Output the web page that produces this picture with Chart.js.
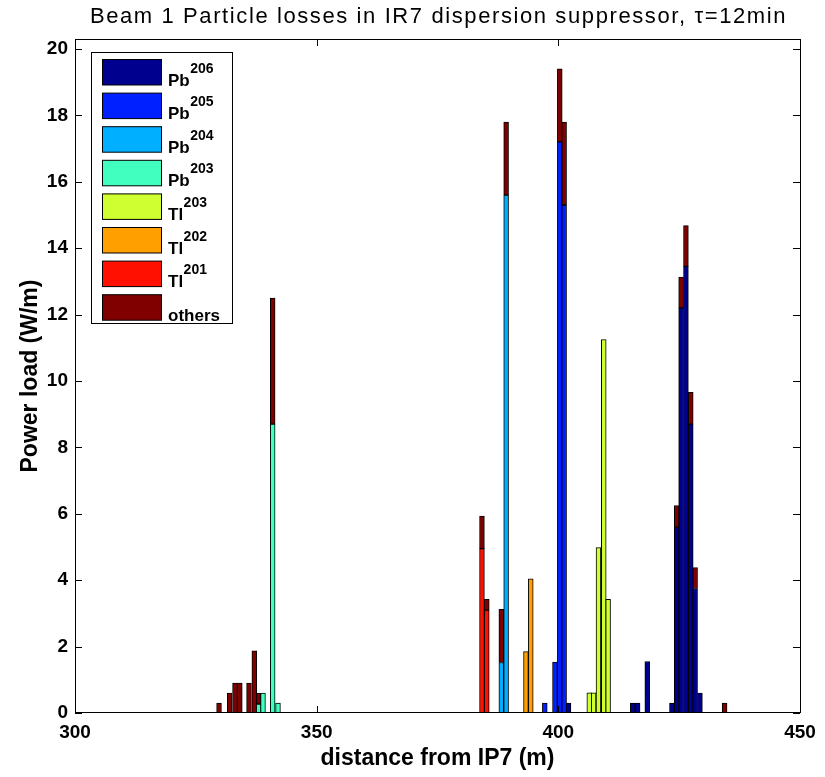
<!DOCTYPE html>
<html>
<head>
<meta charset="utf-8">
<script src="https://cdn.jsdelivr.net/npm/chart.js@4.4.3/dist/chart.umd.min.js"></script>
<style>
  html, body { margin: 0; padding: 0; background: #fff; }
  #wrap { width: 825px; height: 777px; }
</style>
</head>
<body>
<div id="wrap"><canvas id="lossChart" width="825" height="777"></canvas></div>
<script>
// Distancias desde IP7 (m) y carga (W/m) por especie
const pb206Dist = [402.1, 415.4, 416.4, 418.4, 423.5, 424.5, 425.4, 426.4, 427.4, 428.3, 429.3];
const pb206Load = [0.3, 0.3, 0.3, 1.55, 0.3, 5.6, 12.2, 13.45, 8.7, 3.75, 0.6];

const pb205Dist = [397.2, 399.3, 400.3, 401.2];
const pb205Load = [0.3, 1.53, 17.2, 15.3];

const pb204Dist = [388.2, 389.2];
const pb204Load = [1.52, 15.6];

const pb203Dist = [338.0, 338.9, 340.9, 342.0];
const pb203Load = [0.27, 0.6, 8.7, 0.3];

const tl203Dist = [406.4, 407.3, 408.3, 409.4, 410.3];
const tl203Load = [0.61, 0.61, 4.98, 11.25, 3.42];

const tl202Dist = [393.3, 394.3];
const tl202Load = [1.85, 4.04];

const tl201Dist = [384.2, 385.2];
const tl201Load = [4.95, 3.1];

const othersDist = [329.8, 332.0, 333.1, 334.1, 336.0, 337.1, 338.0, 340.9, 384.2, 385.2, 388.2, 389.2, 400.3, 401.2, 424.5, 425.4, 426.4, 427.4, 428.3, 434.4];
const othersLoad = [0.3, 0.6, 0.9, 0.9, 0.9, 1.87, 0.32, 3.8, 0.98, 0.32, 1.6, 2.2, 2.2, 2.5, 0.65, 0.93, 1.23, 0.96, 0.63, 0.3];

// Leyenda: nombre base + superindice
const labelBase = ['Pb', 'Pb', 'Pb', 'Pb', 'Tl', 'Tl', 'Tl', 'others'];
const labelSup = ['206', '205', '204', '203', '203', '202', '201', ''];
const colores = ['#00008F', '#0020FF', '#00AFFF', '#40FFBF', '#CFFF30', '#FF9F00', '#FF1000', '#800000'];

const xTicks = [300, 350, 400, 450];
const titulo = 'Beam 1 Particle losses in IR7 dispersion suppressor, τ=12min';

const series = [
    [pb206Dist, pb206Load], [pb205Dist, pb205Load], [pb204Dist, pb204Load], [pb203Dist, pb203Load],
    [tl203Dist, tl203Load], [tl202Dist, tl202Load], [tl201Dist, tl201Load], [othersDist, othersLoad]
];

const datasets = series.map(([dist, load], i) => ({
    label: labelBase[i] + labelSup[i],
    data: dist.map((d, j) => ({ x: d, y: load[j] })),
    backgroundColor: colores[i],
    borderColor: '#000',
    borderWidth: 1,
    borderSkipped: false,
    barThickness: 4.83
}));

const fuente = 'Arial, "Liberation Sans", sans-serif';

// Titulo con espaciado de letras parecido al de MATLAB
const tituloPlugin = {
    id: 'titulo',
    afterDraw(chart) {
        const { ctx, chartArea: a } = chart;
        ctx.save();
        ctx.font = '22px ' + fuente;
        ctx.letterSpacing = '1.6px';
        ctx.fillStyle = '#000';
        ctx.textAlign = 'center';
        ctx.textBaseline = 'middle';
        ctx.fillText(titulo, (a.left + a.right) / 2 + 1, 17);
        ctx.restore();
    }
};

// Marco de los ejes con marcas hacia dentro (estilo MATLAB)
const marcoPlugin = {
    id: 'marco',
    afterDatasetsDraw(chart) {
        const { ctx, chartArea: a, scales: { x, y } } = chart;
        ctx.save();
        ctx.strokeStyle = '#000';
        ctx.lineWidth = 1;
        ctx.strokeRect(Math.round(a.left) + 0.5, Math.round(a.top) + 0.5,
            Math.round(a.right - a.left), Math.round(a.bottom - a.top) - 1);
        ctx.beginPath();
        x.ticks.forEach(t => {
            const px = Math.round(x.getPixelForValue(t.value)) + 0.5;
            ctx.moveTo(px, a.bottom); ctx.lineTo(px, a.bottom - 7);
            ctx.moveTo(px, a.top); ctx.lineTo(px, a.top + 7);
        });
        y.ticks.forEach(t => {
            const py = Math.round(y.getPixelForValue(t.value)) + 0.5;
            ctx.moveTo(a.left, py); ctx.lineTo(a.left + 7, py);
            ctx.moveTo(a.right, py); ctx.lineTo(a.right - 7, py);
        });
        ctx.stroke();
        ctx.restore();
    }
};

// Leyenda dibujada a mano para poder poner superindices
const leyendaPlugin = {
    id: 'leyenda',
    afterDraw(chart) {
        const ctx = chart.ctx;
        const bx = 91.5, by = 52.5, bw = 141, bh = 271;
        ctx.save();
        ctx.fillStyle = '#fff';
        ctx.fillRect(bx, by, bw, bh);
        ctx.strokeStyle = '#000';
        ctx.lineWidth = 1;
        ctx.strokeRect(bx, by, bw, bh);
        chart.data.datasets.forEach((ds, i) => {
            const sy = 59.5 + i * 33.6;
            ctx.fillStyle = ds.backgroundColor;
            ctx.fillRect(102.5, sy, 59, 25.5);
            ctx.strokeRect(102.5, sy, 59, 25.5);
            ctx.fillStyle = '#000';
            ctx.textBaseline = 'alphabetic';
            ctx.textAlign = 'left';
            ctx.font = 'bold 17px ' + fuente;
            const base = labelBase[i];
            ctx.fillText(base, 168, sy + 26);
            if (labelSup[i]) {
                const w = ctx.measureText(base).width;
                ctx.font = 'bold 14px ' + fuente;
                ctx.fillText(labelSup[i], 168 + w + 0.5, sy + 13);
            }
        });
        ctx.restore();
    }
};

new Chart(document.getElementById('lossChart'), {
    type: 'bar',
    data: { datasets },
    options: {
        responsive: false,
        animation: false,
        layout: { padding: { top: 39, right: 25, bottom: 0, left: 0 } },
        plugins: {
            legend: { display: false },
            tooltip: { enabled: false },
            title: { display: false }
        },
        scales: {
            x: {
                type: 'linear',
                stacked: true,
                offset: false,
                min: 300,
                max: 450,
                afterBuildTicks: (s) => { s.ticks = xTicks.map(v => ({ value: v })); },
                afterFit: (s) => { s.height = 64; },
                grid: { display: false, drawTicks: false },
                border: { display: false },
                ticks: {
                    color: '#000',
                    padding: 8,
                    maxRotation: 0,
                    font: { family: fuente, size: 19, weight: 'bold' }
                },
                title: {
                    display: true,
                    text: 'distance from IP7 (m)',
                    color: '#000',
                    padding: { top: 0, bottom: 5 },
                    font: { family: fuente, size: 23, weight: 'bold', lineHeight: 1.2 }
                }
            },
            y: {
                stacked: true,
                min: 0,
                max: 20.3,
                afterFit: (s) => { s.width = 75; },
                grid: { display: false, drawTicks: false },
                border: { display: false },
                ticks: {
                    stepSize: 2,
                    includeBounds: false,
                    color: '#000',
                    padding: 7,
                    font: { family: fuente, size: 19, weight: 'bold' }
                },
                title: {
                    display: true,
                    text: 'Power load (W/m)',
                    color: '#000',
                    padding: { top: 17, bottom: 0 },
                    font: { family: fuente, size: 23, weight: 'bold', lineHeight: 1.2 }
                }
            }
        }
    },
    plugins: [marcoPlugin, leyendaPlugin, tituloPlugin]
});
</script>
</body>
</html>
